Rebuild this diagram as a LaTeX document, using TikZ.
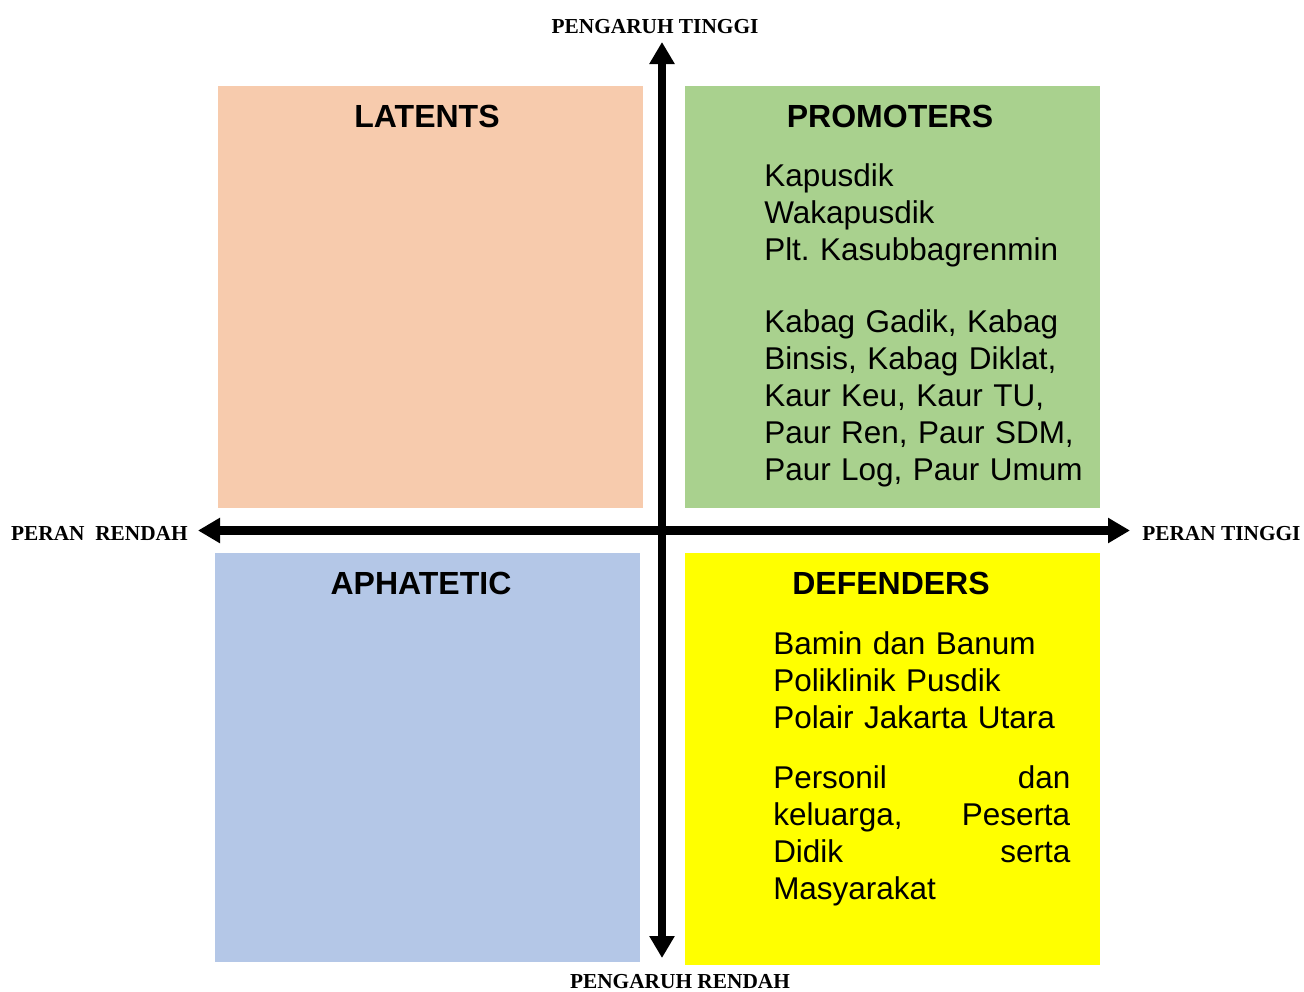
\documentclass[tikz,border=0pt]{standalone}
\usepackage{fontspec}
\setmainfont{Liberation Sans}
\newfontfamily\timesfont{Liberation Serif}
\usetikzlibrary{arrows.meta}

\definecolor{latentcol}{RGB}{247,203,173}
\definecolor{promotercol}{RGB}{169,209,142}
\definecolor{apathcol}{RGB}{180,199,231}
\definecolor{defendcol}{RGB}{255,255,0}

\tikzset{
  quad/.style={anchor=north west, inner sep=0pt, outer sep=0pt, draw=none},
  quadtitle/.style={anchor=base, inner sep=0pt, font=\bfseries\fontsize{24}{27.75}\selectfont},
  quadtext/.style={anchor=base west, inner sep=0pt, align=left, text width=245pt, font=\frenchspacing\fontsize{23.6}{27.75}\selectfont},
  axislabel/.style={inner sep=0pt, font=\timesfont\bfseries\fontsize{16}{19}\selectfont},
  axis/.style={line width=6.5pt, {Triangle[width=18pt,length=16.5pt]}-{Triangle[width=18pt,length=16.5pt]}}
}

\begin{document}
\begin{tikzpicture}[x=0.75pt,y=0.75pt,yscale=-1,xscale=1]
\useasboundingbox (0,0) rectangle (1304,992);

%Shape: Rectangle [latents]
\node [quad, fill=latentcol, minimum width=318.75pt, minimum height=316.5pt] (latents) at (218,86) {};
%Shape: Rectangle [promoters]
\node [quad, fill=promotercol, minimum width=311.25pt, minimum height=316.5pt] (promoters) at (685,86) {};
%Shape: Rectangle [aphatetic]
\node [quad, fill=apathcol, minimum width=318.75pt, minimum height=306.75pt] (aphatetic) at (215,553) {};
%Shape: Rectangle [defenders]
\node [quad, fill=defendcol, minimum width=311.25pt, minimum height=309pt] (defenders) at (685,553) {};

%Straight Lines [axes]
\coordinate (inftop) at (662,42);
\coordinate (infbot) at (662,958);
\coordinate (rolelo) at (198,530.5);
\coordinate (rolehi) at (1130,530.5);
\draw [axis] (inftop) -- (infbot);
\draw [axis] (rolelo) -- (rolehi);

% Text Node
\node [axislabel, anchor=base] (inflabhi) at (655,33) {PENGARUH TINGGI};
% Text Node
\node [axislabel, anchor=base] (inflablo) at (680,988) {PENGARUH RENDAH};
% Text Node
\node [axislabel, anchor=base east] (rolelablo) at (188,540) {PERAN\ \ RENDAH};
% Text Node
\node [axislabel, anchor=base west] (rolelabhi) at (1142,540) {PERAN TINGGI};

% Text Node
\node [quadtitle] (latentstitle) at (427,127) {LATENTS};
% Text Node
\node [quadtitle] (promoterstitle) at (890,127) {PROMOTERS};
% Text Node
\node [quadtitle] (aphatetictitle) at (421,594) {APHATETIC};
% Text Node
\node [quadtitle] (defenderstitle) at (891,594) {DEFENDERS};

% Text Node
\node [quadtext] (promotersa) at (764,186) {Kapusdik\\Wakapusdik\\Plt. Kasubbagrenmin};
% Text Node
\node [quadtext] (promotersb) at (764,332) {Kabag Gadik, Kabag\\Binsis, Kabag Diklat,\\Kaur Keu, Kaur TU,\\Paur Ren, Paur SDM,\\Paur Log, Paur Umum};
% Text Node
\node [quadtext] (defendersa) at (773,654) {Bamin dan Banum\\Poliklinik Pusdik\\Polair Jakarta Utara};
% Text Node
\node [quadtext, text width=222.75pt] (defendersb) at (773,788) {Personil\hfill dan\\keluarga,\hfill Peserta\\Didik\hfill serta\\Masyarakat};

\end{tikzpicture}
\end{document}
